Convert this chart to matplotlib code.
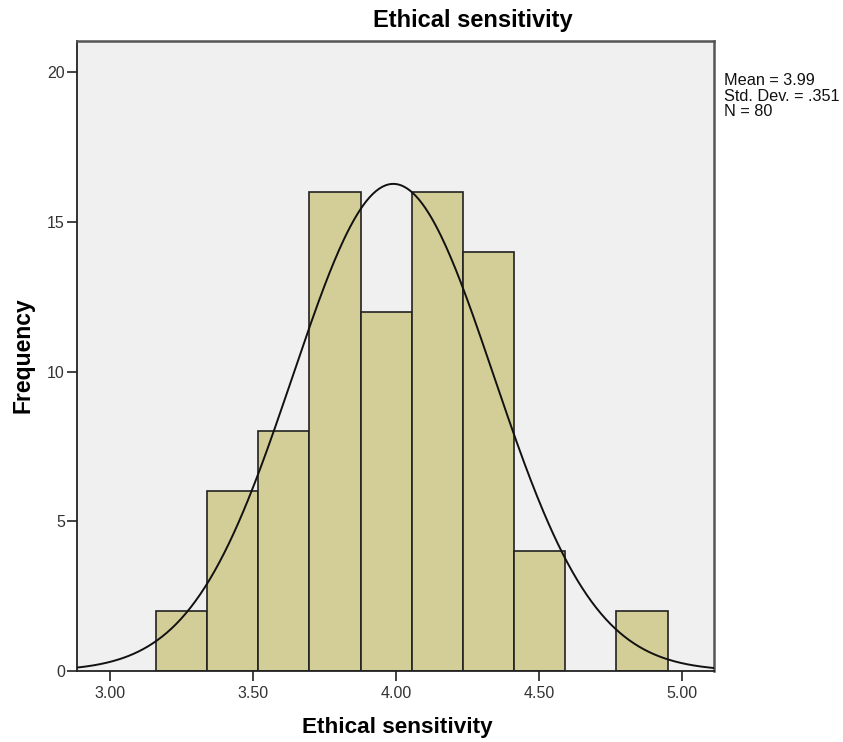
#!/usr/bin/env python3

import matplotlib
matplotlib.use("Agg")
import matplotlib.pyplot as plt
import numpy as np

plt.rcParams['font.family'] = ['Liberation Sans', 'DejaVu Sans']

# histogram bins
bin_start = 3.160
bin_width = 0.1789
counts = [2, 6, 8, 16, 12, 16, 14, 4, 0, 2]

mean = 3.99
std_dev = 0.351
n_total = 80

x_ticks = [3.00, 3.50, 4.00, 4.50, 5.00]
x_tick_labels = ["3.00", "3.50", "4.00", "4.50", "5.00"]
y_ticks = [0, 5, 10, 15, 20]

fig = plt.figure(figsize=(8.43, 7.42), dpi=100)
ax = fig.add_axes([0.0919, 0.0957, 0.7554, 0.8495])
ax.set_facecolor('#F0F0F0')

edges = bin_start + bin_width * np.arange(len(counts) + 1)
for ix, c in enumerate(counts):
    if c > 0:
        ax.bar(edges[ix], c, width=bin_width, align='edge',
               color='#D3CE97', edgecolor='#222222', linewidth=1.2, zorder=2)

######### normal curve
xlim = (2.886, 5.112)
xs = np.linspace(xlim[0], xlim[1], 400)
ys = n_total * bin_width / (std_dev * np.sqrt(2 * np.pi)) * np.exp(-0.5 * ((xs - mean) / std_dev) ** 2)
ax.plot(xs, ys, color='#111111', linewidth=1.4, zorder=3)

ax.set_xlim(*xlim)
ax.set_ylim(0, 21.05)
ax.set_xticks(x_ticks)
ax.set_xticklabels(x_tick_labels)
ax.set_yticks(y_ticks)
ax.tick_params(axis='both', labelsize=11.5, colors='#222222', labelcolor='#333333',
               length=7.5, width=1.2, direction='out')
ax.tick_params(axis='x', pad=3.6)
ax.tick_params(axis='y', pad=1.5)

for side in ['left', 'bottom']:
    ax.spines[side].set_color('#222222')
    ax.spines[side].set_linewidth(1.3)
for side in ['top', 'right']:
    ax.spines[side].set_color('#555555')
    ax.spines[side].set_linewidth(1.8)

# SPSS puts the title off centre
fig.text(0.5605, 0.973, "Ethical sensitivity", fontsize=17, fontweight='bold',
         ha='center', va='center')
fig.text(0.4715, 0.019, "Ethical sensitivity", fontsize=16.2, fontweight='bold',
         ha='center', va='center')
fig.text(0.0273, 0.5216, "Frequency", fontsize=16.5, fontweight='bold',
         ha='center', va='center', rotation=90)

fig.text(0.859, 0.902, "Mean = 3.99\nStd. Dev. = .351\nN = 80",
         fontsize=11.7, va='top', ha='left', linespacing=1.07, color='#111111')

fig.savefig("out.png", dpi=100)
